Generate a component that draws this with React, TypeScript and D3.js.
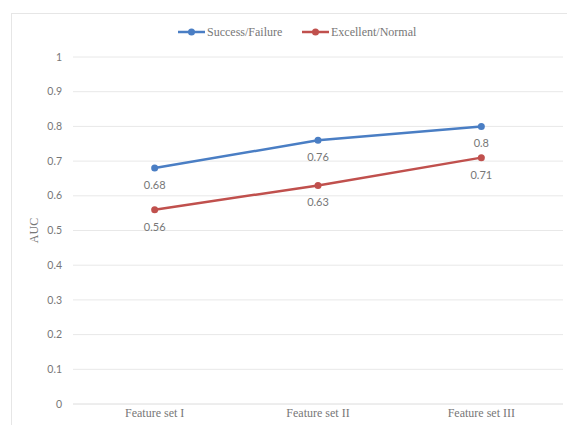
import React from "react";
import * as d3 from "d3";

const categories = ["Feature set I", "Feature set II", "Feature set III"];
const successFailure = [0.68, 0.76, 0.8];
const excellentNormal = [0.56, 0.63, 0.71];
const yTicks = [0, 0.1, 0.2, 0.3, 0.4, 0.5, 0.6, 0.7, 0.8, 0.9, 1];
const seriesNames = ["Success/Failure", "Excellent/Normal"];

const W = 567, H = 425;
const left = 73, right = 563, top = 57, bottom = 404;
const colors = ["#4A7EC4", "#C0504D"];

export default function App() {
  const x = d3.scaleBand().domain(categories).range([left, right]);
  const y = d3.scaleLinear().domain([0, 1]).range([bottom, top]);
  const cx = (c: string) => (x(c) as number) + x.bandwidth() / 2;
  const line = d3.line<number>().x((_, i) => cx(categories[i])).y((d) => y(d));
  const series = [successFailure, excellentNormal];
  const fmt = (v: number) => String(+v.toFixed(2));
  return (
    <svg width={W} height={H} style={{ position: "absolute", left: 0, top: 0 }}>
      <rect x={0} y={0} width={W} height={H} fill="#fff" />
      <rect x={11.5} y={13.5} width={W} height={H} fill="none" stroke="#e6e6e6" />
      {yTicks.map((t) => (
        <g key={t}>
          <line x1={left} x2={right} y1={y(t)} y2={y(t)} stroke={t === 0 ? "#dcdcdc" : "#e8e8e8"} strokeWidth={1} />
          <text x={62} y={y(t)} dy="0.35em" textAnchor="end" fontFamily="Lato, 'Open Sans', sans-serif" fontSize={10.5} fill="#777">
            {fmt(t)}
          </text>
        </g>
      ))}
      <text transform={`translate(38,${(top + bottom) / 2}) rotate(-90)`} textAnchor="middle" fontFamily="'Liberation Serif', serif" fontSize={12} fill="#777">
        AUC
      </text>
      {categories.map((c) => (
        <text key={c} x={cx(c)} y={417} textAnchor="middle" fontFamily="'Liberation Serif', serif" fontSize={12} fill="#777">
          {c}
        </text>
      ))}
      {series.map((s, si) => (
        <g key={si}>
          <path d={line(s) as string} fill="none" stroke={colors[si]} strokeWidth={2.5} />
          {s.map((v, i) => (
            <g key={i}>
              <circle cx={cx(categories[i])} cy={y(v)} r={3.5} fill={colors[si]} />
              <text x={cx(categories[i])} y={y(v) + 21} textAnchor="middle" fontFamily="Lato, 'Open Sans', sans-serif" fontSize={11} fill="#777">
                {fmt(v)}
              </text>
            </g>
          ))}
        </g>
      ))}
      {seriesNames.map((n, i) => {
        const lx = i === 0 ? 178 : 302;
        return (
          <g key={n}>
            <line x1={lx} x2={lx + 27} y1={32} y2={32} stroke={colors[i]} strokeWidth={2.5} />
            <circle cx={lx + 13.5} cy={32} r={3.5} fill={colors[i]} />
            <text x={lx + 29} y={32} dy="0.35em" fontFamily="'Liberation Serif', serif" fontSize={12} fill="#777">
              {n}
            </text>
          </g>
        );
      })}
    </svg>
  );
}
